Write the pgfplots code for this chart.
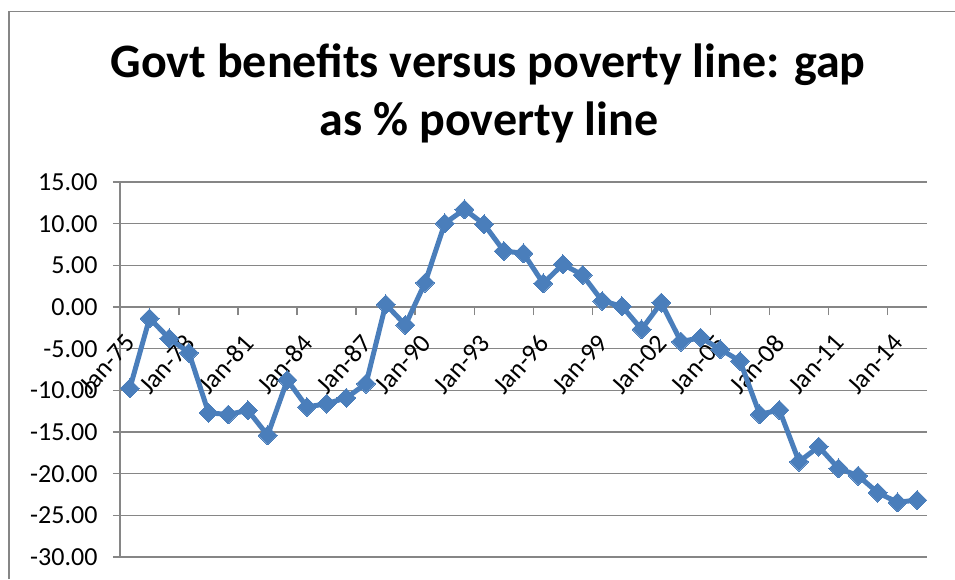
\documentclass[border=0pt]{standalone}
\usepackage{fontspec}
\setmainfont{Carlito}
\usepackage{pgfplots}
\usepackage{pgfplotstable}
\pgfplotsset{compat=1.18}
\definecolor{axgray}{RGB}{134,134,134}
\definecolor{serblue}{RGB}{74,126,187}

% gap as % of poverty line, one point per January, 1975..2015
\pgfplotstableread{
idx gap
0  -9.76
1  -1.36
2  -3.76
3  -5.48
4  -12.70
5  -12.90
6  -12.40
7  -15.40
8  -8.76
9  -12.00
10 -11.60
11 -10.90
12 -9.20
13 0.32
14 -2.16
15 2.92
16 10.04
17 11.72
18 9.92
19 6.72
20 6.44
21 2.84
22 5.12
23 3.84
24 0.72
25 0.10
26 -2.68
27 0.52
28 -4.16
29 -3.68
30 -5.08
31 -6.48
32 -12.88
33 -12.36
34 -18.56
35 -16.76
36 -19.36
37 -20.24
38 -22.28
39 -23.44
40 -23.16
}\gapdata

\begin{document}
\begin{tikzpicture}[x=1pt,y=1pt]
\path[use as bounding box] (0,0) rectangle (955,579);
\draw[axgray, line width=1.5pt] (9,0) -- (9,567.5) -- (955,567.5);
\node[anchor=base, font=\fontsize{48}{56}\selectfont\bfseries] at (488,501) {Govt benefits versus poverty line: gap};
\node[anchor=base, font=\fontsize{48}{56}\selectfont\bfseries] at (489,443) {as \% poverty line};
\begin{axis}[
    at={(120pt,22pt)}, anchor=south west,
    scale only axis, width=807pt, height=375pt,
    xmin=-0.5, xmax=40.5, ymin=-30, ymax=15,
    axis x line*=middle, axis y line*=left,
    axis line style={axgray, line width=1.5pt},
    tick align=outside,
    major tick length=7pt, minor tick length=8pt,
    tick style={axgray, line width=1.5pt},
    xtick={0,3,...,39},
    xticklabels={Jan-75,Jan-78,Jan-81,Jan-84,Jan-87,Jan-90,Jan-93,Jan-96,Jan-99,Jan-02,Jan-05,Jan-08,Jan-11,Jan-14},
    major x tick style={draw=none},
    minor xtick={2.5,5.5,...,38.5},
    ytick={-30,-25,...,15},
    yticklabels={-30.00,-25.00,-20.00,-15.00,-10.00,-5.00,0.00,5.00,10.00,15.00},
    hide obscured y ticks=false,
    ymajorgrids, grid style={axgray, line width=1.5pt},
    yticklabel style={font=\fontsize{26}{30}\selectfont, xshift=-12pt},
    xticklabel style={font=\fontsize{26}{30}\selectfont, xshift=3pt, yshift=-22pt, rotate=48, anchor=east},
]
\addplot[serblue, line width=5pt, line join=round, mark=square*, mark size=6.7pt,
    mark options={rotate=45, line width=0pt}] table[x=idx,y=gap]{\gapdata};
\end{axis}
\end{tikzpicture}
\end{document}
